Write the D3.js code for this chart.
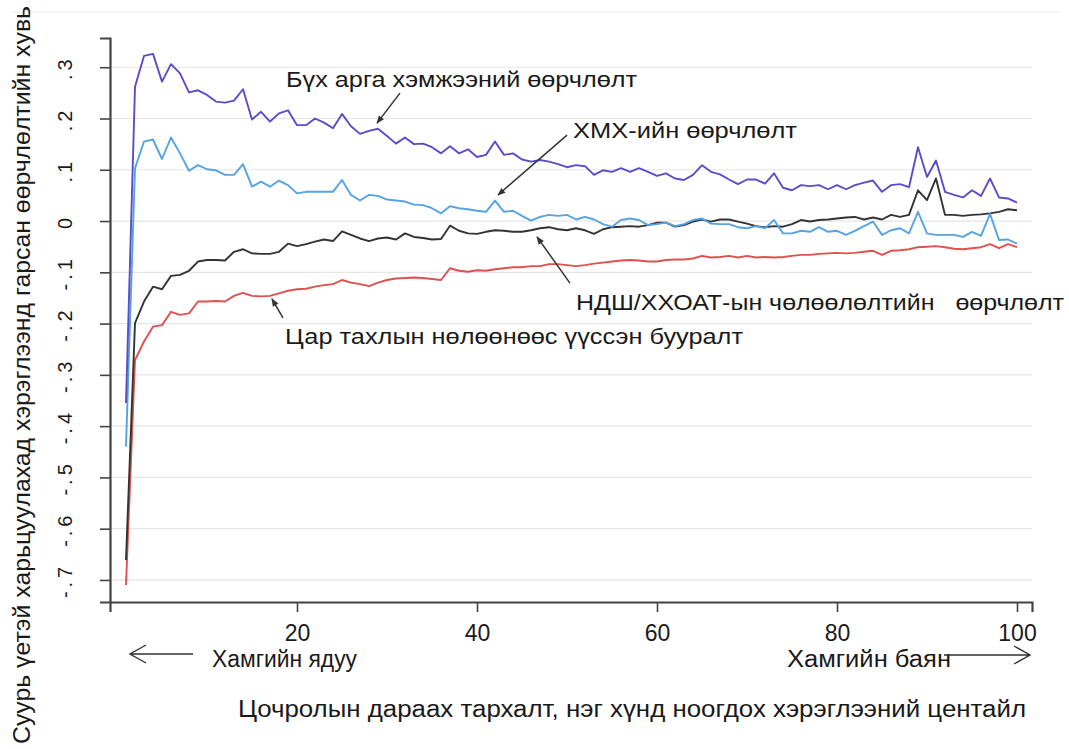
<!DOCTYPE html>
<html>
<head>
<meta charset="utf-8">
<script src="https://cdn.jsdelivr.net/npm/d3@7"></script>
<style>
  html, body { margin: 0; padding: 0; background: #fff; }
  svg { display: block; }
  text { font-family: "Liberation Sans", Arial, sans-serif; fill: #1a1a1a; }
</style>
</head>
<body>
<svg id="chart" width="1069" height="749"></svg>
<script>
// ---- Data ----
const percentiles = d3.range(1, 101);

const totalChange = [
  -0.355, 0.262, 0.322, 0.326, 0.272, 0.306, 0.288, 0.251, 0.255, 0.246,
  0.233, 0.231, 0.235, 0.257, 0.198, 0.213, 0.194, 0.210, 0.216, 0.187,
  0.187, 0.200, 0.192, 0.181, 0.209, 0.185, 0.170, 0.176, 0.180, 0.166,
  0.151, 0.163, 0.150, 0.151, 0.144, 0.132, 0.146, 0.132, 0.140, 0.125,
  0.129, 0.155, 0.129, 0.132, 0.120, 0.116, 0.119, 0.116, 0.111, 0.105,
  0.109, 0.107, 0.090, 0.099, 0.096, 0.103, 0.096, 0.103, 0.096, 0.088,
  0.093, 0.083, 0.080, 0.090, 0.109, 0.096, 0.091, 0.081, 0.072, 0.081,
  0.081, 0.073, 0.093, 0.065, 0.060, 0.070, 0.068, 0.070, 0.062, 0.070,
  0.062, 0.070, 0.075, 0.079, 0.057, 0.070, 0.072, 0.066, 0.144, 0.086,
  0.118, 0.057, 0.051, 0.046, 0.060, 0.049, 0.083, 0.046, 0.044, 0.036
];

const cashTransferChange = [
  -0.440, 0.103, 0.155, 0.159, 0.121, 0.163, 0.132, 0.098, 0.109, 0.101,
  0.099, 0.090, 0.090, 0.111, 0.067, 0.077, 0.067, 0.079, 0.070, 0.054,
  0.057, 0.057, 0.057, 0.057, 0.080, 0.051, 0.040, 0.051, 0.049, 0.042,
  0.040, 0.038, 0.032, 0.031, 0.025, 0.015, 0.029, 0.025, 0.023, 0.020,
  0.018, 0.040, 0.018, 0.020, 0.010, 0.001, 0.008, 0.012, 0.010, 0.012,
  0.003, 0.008, 0.003, -0.006, -0.011, 0.002, 0.005, 0.002, -0.008, -0.006,
  -0.003, -0.010, -0.006, 0.002, 0.005, -0.005, -0.006, -0.006, -0.012, -0.014,
  -0.010, -0.014, 0.002, -0.024, -0.024, -0.019, -0.021, -0.012, -0.021, -0.019,
  -0.027, -0.019, -0.010, -0.001, -0.027, -0.018, -0.014, -0.024, 0.018, -0.024,
  -0.027, -0.027, -0.027, -0.031, -0.021, -0.029, 0.014, -0.037, -0.036, -0.044
];

const taxReliefChange = [
  -0.661, -0.199, -0.157, -0.128, -0.133, -0.107, -0.105, -0.097, -0.079, -0.076,
  -0.076, -0.077, -0.060, -0.055, -0.063, -0.064, -0.064, -0.060, -0.044, -0.049,
  -0.045, -0.040, -0.036, -0.039, -0.020, -0.027, -0.034, -0.039, -0.034, -0.032,
  -0.036, -0.024, -0.031, -0.033, -0.036, -0.035, -0.009, -0.019, -0.024, -0.025,
  -0.021, -0.018, -0.019, -0.021, -0.021, -0.018, -0.014, -0.012, -0.016, -0.018,
  -0.014, -0.018, -0.025, -0.016, -0.012, -0.011, -0.010, -0.011, -0.008, -0.003,
  -0.003, -0.011, -0.008, -0.001, 0.003, -0.001, 0.003, 0.003, -0.001, -0.005,
  -0.010, -0.012, -0.010, -0.011, -0.006, 0.002, -0.001, 0.002, 0.003, 0.005,
  0.007, 0.008, 0.003, 0.007, 0.003, 0.012, 0.008, 0.012, 0.060, 0.041,
  0.083, 0.012, 0.012, 0.010, 0.012, 0.013, 0.015, 0.018, 0.023, 0.021
];

const pandemicDecline = [
  -0.710, -0.271, -0.235, -0.206, -0.203, -0.177, -0.183, -0.180, -0.157, -0.157,
  -0.156, -0.157, -0.146, -0.140, -0.146, -0.147, -0.146, -0.141, -0.136, -0.133,
  -0.132, -0.128, -0.125, -0.123, -0.115, -0.120, -0.123, -0.127, -0.120, -0.115,
  -0.112, -0.111, -0.110, -0.111, -0.113, -0.115, -0.092, -0.097, -0.099, -0.096,
  -0.097, -0.094, -0.092, -0.090, -0.090, -0.088, -0.088, -0.084, -0.084, -0.086,
  -0.088, -0.086, -0.083, -0.081, -0.079, -0.077, -0.076, -0.077, -0.079, -0.079,
  -0.076, -0.075, -0.075, -0.073, -0.068, -0.071, -0.070, -0.068, -0.071, -0.068,
  -0.071, -0.070, -0.071, -0.070, -0.068, -0.066, -0.066, -0.064, -0.063, -0.062,
  -0.063, -0.062, -0.060, -0.058, -0.066, -0.058, -0.057, -0.055, -0.051, -0.050,
  -0.049, -0.051, -0.054, -0.055, -0.053, -0.051, -0.045, -0.053, -0.045, -0.051
];

const yTicks = [-0.7, -0.6, -0.5, -0.4, -0.3, -0.2, -0.1, 0, 0.1, 0.2, 0.3];
const yTickLabels = ["-.7", "-.6", "-.5", "-.4", "-.3", "-.2", "-.1", "0", ".1", ".2", ".3"];
const xTicks = [20, 40, 60, 80, 100];
const xTickLabels = ["20", "40", "60", "80", "100"];

const seriesNames = [
  "Цар тахлын нөлөөнөөс үүссэн бууралт",
  "НДШ/ХХОАТ-ын чөлөөлөлтийн   өөрчлөлт",
  "ХМХ-ийн өөрчлөлт",
  "Бүх арга хэмжээний өөрчлөлт"
];
const seriesColors = ["#e0504f", "#333333", "#55a3e3", "#5a4ccb"];

const yTitle = "Суурь үетэй харьцуулахад хэрэглээнд гарсан өөрчлөлтийн хувь";
const xTitle = "Цочролын дараах тархалт, нэг хүнд ноогдох хэрэглээний центайл";
const poorLabel = "Хамгийн ядуу";
const richLabel = "Хамгийн баян";

// ---- Setup ----
const svg = d3.select("#chart");
const W = 1069, H = 749;
const plotL = 110, plotR = 1032, plotT = 38, plotB = 602;

const x = d3.scaleLinear().domain([-7 / 9, (plotR - 117) / 9]).range([plotL, plotR]);
const y = d3.scaleLinear().domain([-0.743, 0.357]).range([plotB, plotT]);

svg.append("rect").attr("width", W).attr("height", H).attr("fill", "#fff");

// faint frame of the original screenshot
svg.append("line").attr("x1", 12).attr("x2", 1060).attr("y1", 12).attr("y2", 12)
  .attr("stroke", "#ececec").attr("stroke-width", 1);

// gridlines
svg.append("g").selectAll("line").data(yTicks).join("line")
  .attr("x1", plotL).attr("x2", plotR)
  .attr("y1", d => y(d)).attr("y2", d => y(d))
  .attr("stroke", "#e6e6e6").attr("stroke-width", 1.2);

// y axis
const yAxis = svg.append("g").attr("transform", `translate(${plotL},0)`)
  .call(d3.axisLeft(y).tickValues(yTicks).tickSize(10).tickPadding(0)
    .tickFormat((d, i) => yTickLabels[i]));
yAxis.select(".domain").attr("stroke", "#444").attr("stroke-width", 2.2);
yAxis.selectAll(".tick line").attr("stroke", "#444").attr("stroke-width", 1.6);
yAxis.selectAll(".tick text")
  .attr("transform", "rotate(-90)")
  .attr("x", 0).attr("y", -38).attr("dy", 0)
  .attr("text-anchor", "middle")
  .style("letter-spacing", "4px")
  .style("font-size", "20px").style("font-family", '"Liberation Sans", Arial, sans-serif')
  .attr("fill", "#1a1a1a");

// x axis
const xAxis = svg.append("g").attr("transform", `translate(0,${plotB})`)
  .call(d3.axisBottom(x).tickValues(xTicks).tickSize(10).tickPadding(0)
    .tickFormat((d, i) => xTickLabels[i]));
xAxis.select(".domain").attr("stroke", "#444").attr("stroke-width", 2.2);
xAxis.selectAll(".tick line").attr("stroke", "#444").attr("stroke-width", 1.6);
xAxis.selectAll(".tick text")
  .attr("y", 39).attr("dy", 0)
  .style("font-size", "23px").style("font-family", '"Liberation Sans", Arial, sans-serif')
  .attr("fill", "#1a1a1a");

// lines
const seriesData = [pandemicDecline, taxReliefChange, cashTransferChange, totalChange];
const line = d3.line().x((d, i) => x(percentiles[i])).y(d => y(d));
svg.append("g").selectAll("path").data(seriesData).join("path")
  .attr("d", d => line(d))
  .attr("fill", "none")
  .attr("stroke", (d, i) => seriesColors[i])
  .attr("stroke-width", 1.9)
  .attr("stroke-linejoin", "round");

// arrow marker
const defs = svg.append("defs");
defs.append("marker").attr("id", "ah").attr("viewBox", "0 0 10 10")
  .attr("refX", 9).attr("refY", 5).attr("markerWidth", 10).attr("markerHeight", 8)
  .attr("markerUnits", "userSpaceOnUse").attr("orient", "auto")
  .append("path").attr("d", "M0,1 L10,5 L0,9 Z").attr("fill", "#333");

// annotations (positioned in data units: percentile, value)
const labelPos = [
  { p: 18.67, v: -0.239, w: 458 },
  { p: 51.0, v: -0.1735, w: 488 },
  { p: 50.67, v: 0.161, w: 224 },
  { p: 18.78, v: 0.261, w: 351 }
];
const arrowPos = [
  { p1: 18.44, v1: -0.189, p2: 17.22, v2: -0.152 },
  { p1: 50.33, v1: -0.121, p2: 46.67, v2: -0.031 },
  { p1: 50.0, v1: 0.1676, p2: 42.33, v2: 0.0507 },
  { p1: 31.44, v1: 0.2495, p2: 28.89, v2: 0.191 }
];

svg.append("g").selectAll("text").data(seriesNames).join("text")
  .attr("x", (d, i) => x(labelPos[i].p))
  .attr("y", (d, i) => y(labelPos[i].v))
  .attr("textLength", (d, i) => labelPos[i].w)
  .attr("lengthAdjust", "spacingAndGlyphs")
  .style("font-size", "22px")
  .style("white-space", "pre")
  .text(d => d);

svg.append("g").selectAll("line").data(arrowPos).join("line")
  .attr("x1", d => x(d.p1)).attr("y1", d => y(d.v1))
  .attr("x2", d => x(d.p2)).attr("y2", d => y(d.v2))
  .attr("stroke", "#333").attr("stroke-width", 1.5)
  .attr("marker-end", "url(#ah)");

// y title
svg.append("text")
  .attr("transform", "translate(30,375) rotate(-90)")
  .attr("text-anchor", "middle")
  .attr("textLength", 738).attr("lengthAdjust", "spacingAndGlyphs")
  .style("font-size", "23px")
  .text(yTitle);

// bottom direction labels and arrows
svg.append("text").attr("x", 212).attr("y", 667)
  .attr("textLength", 145).attr("lengthAdjust", "spacingAndGlyphs")
  .style("font-size", "23px").text(poorLabel);
svg.append("text").attr("x", 787).attr("y", 667)
  .attr("textLength", 164).attr("lengthAdjust", "spacingAndGlyphs")
  .style("font-size", "23px").text(richLabel);

const arrowG = svg.append("g").attr("stroke", "#333").attr("stroke-width", 1.4).attr("fill", "none");
arrowG.append("path").attr("d", "M193,654 L130,654 M146,645 L130,654 L146,663");
arrowG.append("path").attr("d", "M944,655 L1030,655 M1014,646 L1030,655 L1014,664");

// x title
svg.append("text").attr("x", 238).attr("y", 717)
  .attr("textLength", 788).attr("lengthAdjust", "spacingAndGlyphs")
  .style("font-size", "23px").text(xTitle);
</script>
</body>
</html>
